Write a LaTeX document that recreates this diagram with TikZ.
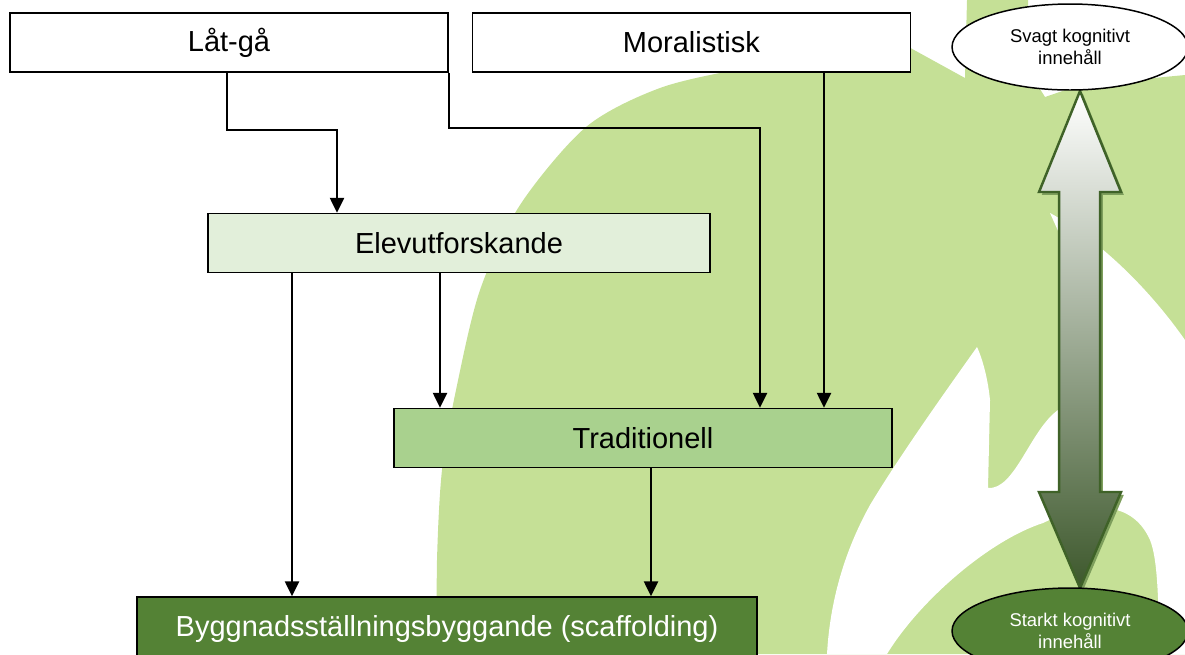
\documentclass[tikz,border=0pt]{standalone}
\usepackage{fontspec}
\setmainfont{Liberation Sans}
\usetikzlibrary{positioning,shapes.geometric,arrows.meta}
\definecolor{flame}{RGB}{197,224,150}
\definecolor{pale}{RGB}{226,239,218}
\definecolor{mid}{RGB}{169,209,142}
\definecolor{dark}{RGB}{84,130,53}
\definecolor{arrowedge}{RGB}{63,98,40}
\definecolor{arrowend}{RGB}{61,88,44}
\definecolor{arrowmid}{RGB}{196,200,192}
\definecolor{shadowgreen}{RGB}{125,158,92}
\begin{document}
\begin{tikzpicture}
[x=0.02cm,y=-0.02cm,
  box/.style={draw,line width=0.85pt,rectangle,minimum width=#1,minimum
    height=1.18cm,inner sep=0pt,font=\fontsize{16.5}{20}\selectfont},
  box/.default=8.76cm,
  level/.style={draw,line width=0.85pt,ellipse,minimum width=4.72cm,minimum
    height=1.72cm,inner sep=0pt,align=center,font=\fontsize{10.5}{12.5}\selectfont},
  conn/.style={line width=1.2pt,-{Triangle[width=8pt,length=8.5pt]}}]
\useasboundingbox (0,0) rectangle (1185,654);
\fill[flame] plot[smooth] coordinates {(437,654) (437,560) (442,470)
  (456,390) (480,290) (520,205) (586,127) (660,88) (746,68) (850,52)
  (905,45)} -- (965,78) -- (967,0) -- (1028,0) -- (1028,70) -- (1045,97)
-- (1080,85) -- (1185,75) -- (1185,654) -- cycle;
\fill[white] (977,347) .. controls (950,385) and (900,455) .. (870,505)
.. controls (845,550) and (830,600) .. (827,654) -- (887,654) .. controls
(920,600) and (990,540) .. (1043,523) .. controls (1080,505) and
(1130,495) .. (1150,540) .. controls (1158,560) and (1158,600) ..
(1160,654) -- (1185,654) -- (1185,340) .. controls (1150,290) and
(1100,240) .. (1050,213) -- (1072,262) -- (1072,400) -- (1058,410)
.. controls (1030,430) and (1015,490) .. (988,488) -- (990,400) .. controls
(988,380) and (983,360) .. (977,347) -- cycle;
\fill[shadowgreen,xshift=1.6pt,yshift=-1.6pt] (1080,91) -- (1121,192) --
(1100,192) -- (1100,492) -- (1121,492) -- (1080,588) -- (1039,492) --
(1059,492) -- (1059,192) -- (1039,192) -- cycle;
\shadedraw[top color=white,middle color=arrowmid,bottom
color=arrowend,draw=arrowedge,line width=1.4pt] (1080,91) -- (1121,192) --
(1100,192) -- (1100,492) -- (1121,492) -- (1080,588) -- (1039,492) --
(1059,492) -- (1059,192) -- (1039,192) -- cycle;
\node[box,fill=white] (latga) at (229,42.5) {Låt-gå};
\node[box,fill=white,right=0.46cm of latga] (moral) {Moralistisk};
\node[box=10.04cm,fill=pale] (elev) at (459,243) {Elevutforskande};
\node[box=9.96cm,fill=mid] (trad) at (643,438) {Traditionell};
\node[box=12.4cm,fill=dark,text=white,minimum height=1.26cm] (bygg) at
(447,628.5) {Byggnadsställningsbyggande (scaffolding)};
\node[level,fill=white] (svagt) at (1070,47) {Svagt kognitivt\\innehåll};
\node[level,fill=dark,text=white] (starkt) at (1070,631) {Starkt
  kognitivt\\innehåll};
\coordinate (k1) at (337,130); \coordinate (k2) at (760,128);
\coordinate (m1) at (824,0); \coordinate (e1) at (292,0);
\coordinate (e2) at (440,0); \coordinate (t1) at (651,0);
\draw[conn] ([xshift=-0.04cm]latga.south) |- (k1) -- (k1 |- elev.north);
\draw[conn] (latga.south east) |- (k2) -- (k2 |- trad.north);
\draw[conn] (moral.south -| m1) -- (trad.north -| m1);
\draw[conn] (elev.south -| e1) -- (bygg.north -| e1);
\draw[conn] (elev.south -| e2) -- (trad.north -| e2);
\draw[conn] (trad.south -| t1) -- (bygg.north -| t1);
\end{tikzpicture}
\end{document}
